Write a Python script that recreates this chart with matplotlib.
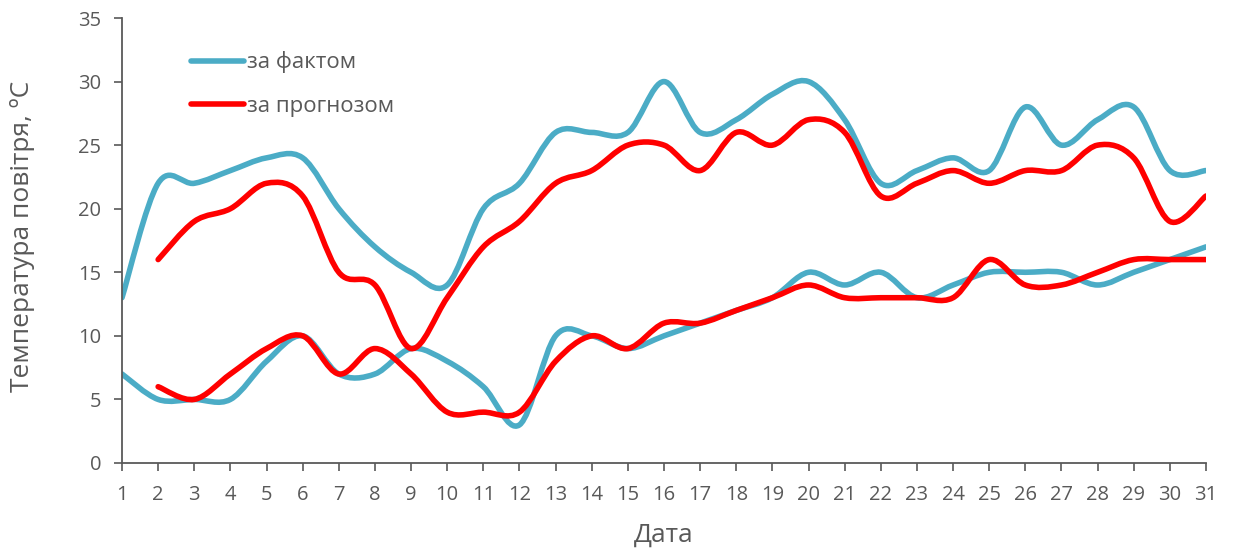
import numpy as np
import matplotlib
matplotlib.use("Agg")
import matplotlib.pyplot as plt
from matplotlib.path import Path
from matplotlib.patches import PathPatch
from matplotlib.lines import Line2D

plt.rcParams['font.family'] = ['Open Sans', 'DejaVu Sans']

days = list(range(1, 32))
fact_max = [13, 22, 22, 23, 24, 24, 20, 17, 15, 14, 20, 22, 26, 26, 26, 30,
            26, 27, 29, 30, 27, 22, 23, 24, 23, 28, 25, 27, 28, 23, 23]
fact_min = [7, 5, 5, 5, 8, 10, 7, 7, 9, 8, 6, 3, 10, 10, 9, 10,
            11, 12, 13, 15, 14, 15, 13, 14, 15, 15, 15, 14, 15, 16, 17]
fc_days = list(range(2, 32))
fc_max = [16, 19, 20, 22, 21, 15, 14, 9, 13, 17, 19, 22, 23, 25, 25,
          23, 26, 25, 27, 26, 21, 22, 23, 22, 23, 23, 25, 24, 19, 21]
fc_min = [6, 5, 7, 9, 10, 7, 9, 7, 4, 4, 4, 8, 10, 9, 11,
          11, 12, 13, 14, 13, 13, 13, 13, 16, 14, 14, 15, 16, 16, 16]

BLUE = '#4BACC6'
RED = '#FF0000'
GREY = '#595959'
LW = 4.0


def smooth_path(x, y):
    x = np.asarray(x, float)
    y = np.asarray(y, float)
    n = len(x)
    verts = [(x[0], y[0])]
    codes = [Path.MOVETO]
    t = 1.0 / 6.0
    for i in range(n - 1):
        p0 = (x[i - 1], y[i - 1]) if i > 0 else (x[i], y[i])
        p1 = (x[i], y[i])
        p2 = (x[i + 1], y[i + 1])
        p3 = (x[i + 2], y[i + 2]) if i + 2 < n else (x[i + 1], y[i + 1])
        c1 = (p1[0] + (p2[0] - p0[0]) * t, p1[1] + (p2[1] - p0[1]) * t)
        c2 = (p2[0] - (p3[0] - p1[0]) * t, p2[1] - (p3[1] - p1[1]) * t)
        verts += [c1, c2, p2]
        codes += [Path.CURVE4] * 3
    return Path(verts, codes)


fig = plt.figure(figsize=(12.34, 5.53), dpi=100)
ax = fig.add_axes([122 / 1234, 1 - 463 / 553, (1206 - 122) / 1234, (463 - 18) / 553])

for xs, ys, c in [(days, fact_max, BLUE), (days, fact_min, BLUE),
                  (fc_days, fc_max, RED), (fc_days, fc_min, RED)]:
    patch = PathPatch(smooth_path(xs, ys), facecolor='none', edgecolor=c,
                      lw=LW, capstyle='round', joinstyle='round')
    ax.add_patch(patch)

ax.set_xlim(1, 31)
ax.set_ylim(0, 35)
ax.set_xticks(days)
ax.set_yticks(range(0, 36, 5))
for s in ['top', 'right']:
    ax.spines[s].set_visible(False)
for s in ['left', 'bottom']:
    ax.spines[s].set_color(GREY)
    ax.spines[s].set_linewidth(1.3)
ax.tick_params(axis='both', colors=GREY, labelsize=14.5, length=6, width=1.2)
ax.tick_params(axis='x', pad=10)
ax.tick_params(axis='y', pad=9)
ax.set_xlabel('Дата', fontsize=19, color=GREY, va='top')
ax.set_ylabel('Температура повітря, ºС', fontsize=19, color=GREY)
ax.xaxis.set_label_coords(0.5, -0.135)
ax.yaxis.set_label_coords(-0.080, 0.51)

handles = [Line2D([], [], color=BLUE, lw=LW, solid_capstyle='round'),
           Line2D([], [], color=RED, lw=LW, solid_capstyle='round')]
leg = ax.legend(handles, ['за фактом', 'за прогнозом'], loc='upper left',
                bbox_to_anchor=(0.045, 0.97), frameon=False, fontsize=16,
                handlelength=2.4, handletextpad=0.12, labelspacing=1.0)
for t in leg.get_texts():
    t.set_color(GREY)

fig.savefig('out.png', dpi=100)
